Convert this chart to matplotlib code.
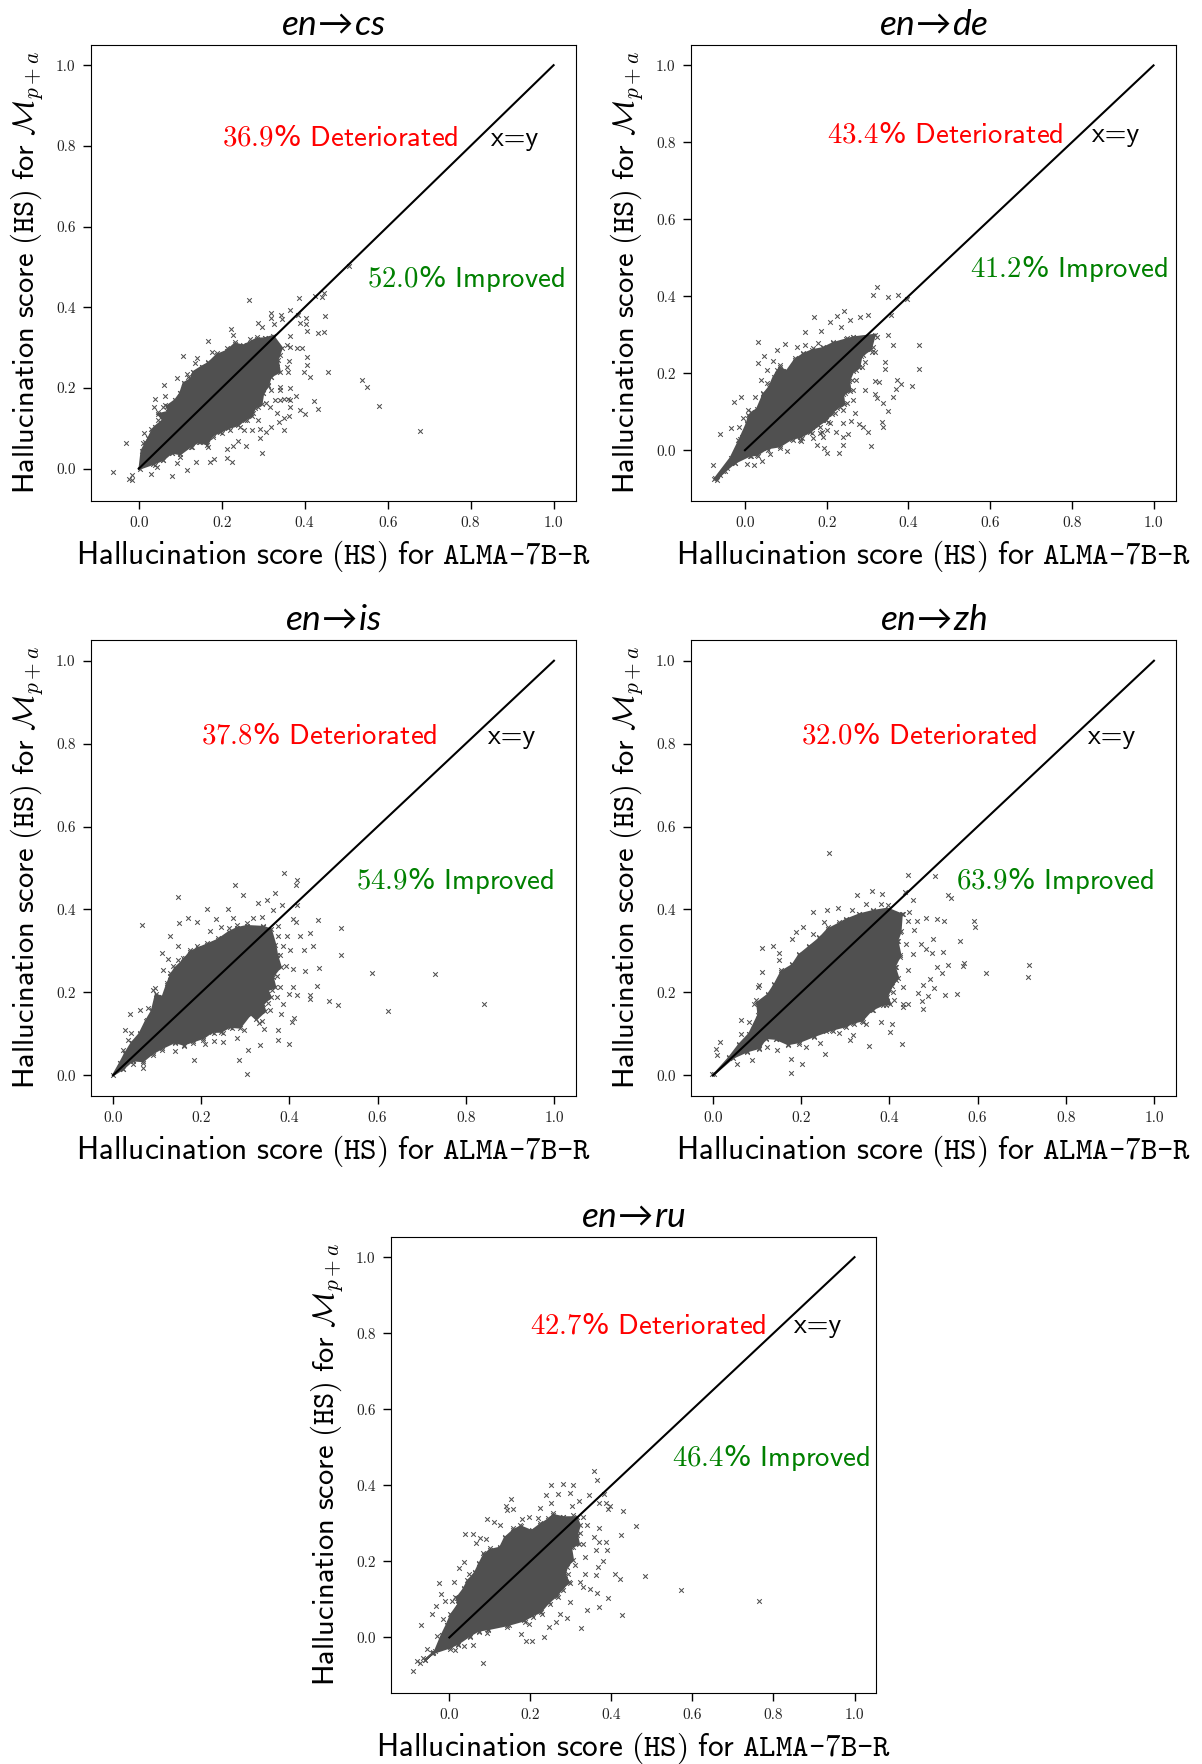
import numpy as np
import matplotlib
matplotlib.use("Agg")
import matplotlib.pyplot as plt

plt.rcParams['mathtext.fontset'] = 'cm'
plt.rcParams['mathtext.default'] = 'regular'

FIG_W, FIG_H = 1202, 1764

tick_values = [0.0, 0.2, 0.4, 0.6, 0.8, 1.0]
tick_labels = ['0.0', '0.2', '0.4', '0.6', '0.8', '1.0']

# single crosses, (ALMA-7B-R score, M_p+a score)
cs_points = [(-.063,-.009),(-.031,.064),(-.023,-.025),(-.017,-.028),(-.015,-.016),(.029,-.013),(.080,-.017),(.116,-.003),
    (.139,.017),(.173,.017),(.182,.025),(.214,.027),(.224,.017),(.298,.040),(.212,.050),(.227,.057),(.240,.069),(.259,.057),
    (.293,.077),(.272,.097),(.254,.096),(.293,.099),(.307,.092),(.320,.104),(.351,.095),(.339,.117),(.349,.125),(.363,.131),
    (.333,.137),(.389,.145),(.402,.136),(.432,.149),(.423,.169),(.379,.179),(.365,.154),(.341,.170),(.361,.173),(.365,.199),
    (.341,.203),(.537,.219),(.551,.202),(.578,.155),(.679,.093),(.456,.240),(.413,.228),(.398,.239),(.405,.258),(.406,.278),
    (.361,.240),(.363,.268),(.357,.253),(.433,.336),(.447,.338),(.450,.379),(.405,.342),(.403,.358),(.403,.373),(.389,.360),
    (.393,.298),(.381,.298),(.365,.302),(.365,.329),(.508,.502),(.447,.435),(.442,.426),(.426,.429),(.386,.423),(.267,.417),
    (.320,.387),(.342,.381),(.365,.393),(.320,.374),(.346,.372),(.385,.381),(.288,.362),(.298,.352),(.325,.358),(.222,.345),
    (.228,.332),(.168,.317),(.268,.321),(.176,.290),(.106,.280),(.141,.274),(.136,.261),(.093,.224),(.116,.235),(.061,.207),
    (.039,.173),(.063,.181),(.037,.154),(.059,.154),(.047,.121),(.013,.089),(.029,.098),(.015,.067),(.015,.042),(.043,.005),(.092,.013)]
de_points = [(-.078,-.039),(-.075,-.075),(-.061,.042),(-.034,.057),(-.026,.125),(-.010,.138),(.004,-.037),(.022,-.039),(.041,-.029),
    (.061,-.010),(.102,-.003),(.138,.025),(.166,.031),(.176,.014),(.194,.005),(.202,-.008),(.229,-.008),(.241,.014),(.241,.035),
    (.253,.042),(.223,.048),(.308,.010),(.300,.048),(.290,.061),(.280,.068),(.259,.077),(.337,.061),(.336,.074),(.349,.103),
    (.337,.122),(.363,.138),(.324,.135),(.319,.145),(.370,.158),(.381,.171),(.371,.183),(.410,.168),(.426,.210),(.425,.274),
    (.363,.274),(.349,.300),(.343,.228),(.344,.211),(.329,.178),(.319,.180),(.322,.423),(.314,.403),(.350,.397),(.374,.404),
    (.397,.392),(.357,.351),(.302,.351),(.282,.347),(.242,.361),(.226,.349),(.208,.332),(.170,.345),(.146,.307),(.187,.309),
    (.257,.339),(.234,.321),(.033,.282),(.047,.246),(.031,.226),(.078,.261),(.098,.276),(.127,.269),(.055,.209),(.068,.232),
    (.039,.183),(.024,.137),(.008,.105),(-.004,.083),(-.014,.061),(-.016,.027),(.208,.070),(.188,.048),(.163,.061),(.135,.027),
    (.314,.269),(.318,.256),(.294,.230),(.273,.183),(.294,.157),(.265,.131),(.269,.096),(.241,.105),(.204,.113),(.192,.079)]
is_points = [(.065,.362),(.147,.431),(.130,.337),(.150,.368),(.171,.379),(.191,.369),(.214,.400),(.260,.401),(.276,.459),(.295,.436),
    (.328,.415),(.350,.423),(.368,.439),(.387,.488),(.417,.472),(.414,.459),(.418,.411),(.383,.411),(.362,.398),(.234,.377),
    (.219,.348),(.244,.357),(.273,.379),(.318,.379),(.338,.383),(.464,.375),(.517,.355),(.447,.343),(.425,.337),(.454,.311),
    (.432,.303),(.517,.291),(.467,.259),(.435,.251),(.587,.247),(.731,.244),(.841,.173),(.623,.156),(.510,.169),(.489,.180),
    (.447,.184),(.462,.215),(.447,.194),(.409,.256),(.408,.214),(.417,.194),(.398,.196),(.386,.173),(.382,.147),(.410,.138),
    (.407,.128),(.375,.110),(.373,.084),(.399,.076),(.334,.072),(.307,.062),(.286,.037),(.304,.002),(.184,.038),(.250,.080),
    (.280,.090),(.229,.083),(.209,.076),(.342,.112),(.141,.058),(.067,.017),(.046,.026),(.022,.060),(.035,.084),(.026,.110),
    (.040,.102),(.039,.147),(.061,.158),(.080,.162),(.091,.206),(.110,.296),(.125,.280),(.148,.311),(.158,.283),(.114,.255),
    (.401,.303),(.394,.335),(.416,.369),(.409,.377),(.375,.359)]
zh_points = [(.264,.537),(.442,.483),(.503,.481),(.533,.436),(.540,.428),(.361,.445),(.326,.436),(.383,.438),(.436,.442),(.453,.422),
    (.283,.404),(.258,.398),(.227,.394),(.315,.399),(.347,.412),(.203,.357),(.188,.346),(.180,.329),(.137,.312),(.112,.308),
    (.150,.295),(.150,.277),(.483,.380),(.507,.378),(.523,.372),(.592,.373),(.595,.357),(.463,.373),(.445,.394),(.455,.351),
    (.498,.329),(.560,.324),(.521,.297),(.497,.295),(.471,.316),(.483,.305),(.569,.272),(.567,.263),(.533,.267),(.508,.261),
    (.618,.247),(.717,.267),(.714,.236),(.520,.247),(.491,.233),(.476,.217),(.500,.210),(.553,.195),(.526,.193),(.487,.191),
    (.474,.180),(.476,.161),(.464,.199),(.442,.173),(.430,.165),(.408,.201),(.429,.076),(.406,.123),(.402,.104),(.382,.129),
    (.353,.071),(.317,.098),(.311,.084),(.286,.103),(.256,.108),(.243,.078),(.255,.052),(.211,.067),(.201,.027),(.177,.039),
    (.177,.006),(.146,.060),(.123,.068),(.089,.036),(.055,.026),(.010,.048),(.006,.064),(.015,.080),(-.002,.004),(.063,.133),
    (.082,.129),(.063,.099),(.093,.171),(.105,.217),(.112,.249),(.101,.213),(.347,.124)]
ru_points = [(-.089,-.088),(-.079,-.061),(-.071,.034),(-.056,-.031),(-.040,-.038),(-.042,.063),(-.033,.082),(-.021,.114),(-.026,.144),
    (-.011,.096),(.007,.096),(-.030,.004),(-.016,.048),(.012,.147),(.037,.199),(.025,.182),(.049,.168),(.039,.271),(.058,.272),
    (.076,.261),(.091,.260),(.066,.249),(.094,.311),(.111,.303),(.125,.296),(.151,.364),(.141,.347),(.156,.337),(.143,.335),
    (.179,.311),(.197,.316),(.218,.314),(.224,.341),(.252,.400),(.238,.375),(.267,.376),(.281,.404),(.305,.400),(.299,.379),
    (.252,.354),(.302,.346),(.319,.358),(.357,.439),(.365,.414),(.345,.375),(.382,.377),(.370,.354),(.386,.354),(.397,.346),
    (.391,.337),(.428,.332),(.461,.294),(.424,.269),(.370,.289),(.386,.252),(.369,.252),(.356,.265),(.389,.230),(.362,.230),
    (.378,.202),(.366,.186),(.409,.166),(.421,.153),(.484,.161),(.572,.125),(.765,.095),(.391,.105),(.364,.116),(.370,.081),
    (.426,.059),(.339,.072),(.325,.024),(.291,.050),(.273,.061),(.263,.041),(.246,.028),(.233,0),(.203,-.010),(.188,-.009),
    (.178,.009),(.197,.035),(.084,-.066),(.058,-.019),(.035,-.023),(.014,-.032),(.148,.032),(.094,.013),(.298,.094),(.331,.133),
    (.347,.127),(.335,.168),(.361,.164)]

# crosses on the rough edge of the solid area, read less exactly
cs_fringe = [(.011,.063),(.023,.075),(.039,.104),(.031,.092),(.059,.121),(.047,.141),(.071,.141),(.063,.158),(.088,.170),(.100,.187),
    (.092,.158),(.120,.228),(.132,.240),(.108,.212),(.152,.253),(.168,.265),(.188,.286),(.212,.298),(.232,.315),(.252,.307),
    (.204,.282),(.160,.240),(.284,.327),(.304,.323),(.316,.315),(.357,.307),(.341,.282),(.333,.261),(.320,.228),(.312,.207),
    (.341,.195),(.320,.195),(.300,.187),(.308,.162),(.288,.154),(.276,.137),(.260,.121),(.288,.121),(.244,.104),(.220,.096),
    (.200,.088),(.180,.079),(.168,.055),(.148,.067),(.128,.055),(.100,.030),(.080,.038),(.059,.021),(.039,.009),(.019,.013),
    (.349,.174),(.329,.170),(.365,.170),(.316,.154)]
de_fringe = [(-.020,.001),(-.008,.035),(.004,.070),(.016,.100),(.008,.092),(.037,.113),(.045,.148),(.065,.170),(.053,.174),(.078,.209),
    (.086,.222),(.102,.204),(.122,.239),(.143,.252),(.167,.265),(.192,.269),(.216,.282),(.249,.291),(.265,.295),(.180,.278),
    (.147,.274),(.200,.256),(.322,.295),(.310,.256),(.290,.248),(.286,.217),(.273,.209),(.261,.183),(.265,.157),(.245,.148),
    (.249,.122),(.233,.113),(.220,.096),(.204,.074),(.184,.061),(.163,.044),(.139,.031),(.118,.027),(.086,.005),(.057,.001),
    (.033,-.016),(.016,-.016),(-.024,-.034),(-.053,-.055),(-.045,-.047),(-.061,-.064),(.241,.070),(.200,.053),(.184,.044),(.192,.035)]
is_fringe = [(.016,.030),(.027,.054),(.042,.078),(.061,.102),(.076,.134),(.088,.158),(.095,.210),(.110,.190),(.122,.222),(.129,.247),
    (.137,.263),(.148,.279),(.163,.283),(.175,.303),(.190,.311),(.212,.319),(.239,.331),(.262,.355),(.281,.363),(.303,.367),
    (.258,.327),(.318,.355),(.341,.359),(.375,.335),(.386,.311),(.379,.291),(.392,.263),(.371,.239),(.379,.214),(.360,.206),
    (.371,.190),(.352,.174),(.356,.158),(.337,.130),(.330,.126),(.318,.150),(.296,.110),(.269,.114),(.250,.102),(.228,.102),
    (.205,.086),(.182,.078),(.160,.070),(.141,.078),(.110,.062),(.091,.050),(.069,.030),(.046,.034),(.023,.014)]
zh_fringe = [(.036,.044),(.059,.076),(.082,.100),(.105,.149),(.097,.181),(.124,.197),(.139,.221),(.154,.253),(.180,.269),(.195,.293),
    (.218,.313),(.241,.333),(.260,.357),(.286,.369),(.301,.378),(.332,.390),(.362,.398),(.381,.414),(.396,.410),(.226,.341),
    (.252,.369),(.430,.390),(.442,.373),(.427,.349),(.438,.317),(.419,.325),(.453,.293),(.423,.285),(.415,.261),(.442,.253),
    (.415,.229),(.430,.213),(.400,.205),(.411,.181),(.430,.173),(.392,.169),(.362,.157),(.339,.129),(.320,.124),(.302,.116),
    (.271,.108),(.230,.092),(.195,.076),(.169,.072),(.142,.088),(.120,.088),(.105,.064),(.078,.056),(.044,.044)]
ru_fringe = [(-.019,.006),(-.007,.032),(.002,.063),(.022,.089),(.014,.107),(.035,.129),(.043,.151),(.063,.173),(.072,.195),(.084,.221),
    (.100,.234),(.125,.239),(.137,.265),(.158,.287),(.174,.296),(.203,.282),(.224,.300),(.244,.313),(.257,.326),(.281,.318),
    (.306,.322),(.331,.318),(.339,.296),(.323,.274),(.331,.247),(.306,.239),(.335,.212),(.310,.190),(.294,.168),(.323,.146),
    (.298,.142),(.281,.125),(.269,.107),(.249,.089),(.228,.063),(.207,.054),(.187,.041),(.142,.028),(.096,.019),(.072,.015),
    (.051,.002),(.022,-.020),(.002,-.029),(-.044,-.042),(-.064,-.055),(-.072,-.068),(-.060,-.060)]

# outline of the area where the crosses merge into solid grey, traced by eye
cs_core = [(.002,0),(.007,.045),(.023,.075),(.031,.092),(.039,.104),(.059,.121),(.047,.135),(.071,.141),(.068,.155),(.088,.170),
    (.100,.187),(.108,.212),(.125,.222),(.132,.240),(.152,.253),(.168,.262),(.188,.282),(.212,.292),(.232,.310),(.252,.305),
    (.284,.322),(.304,.323),(.324,.329),(.345,.300),(.335,.270),(.340,.240),(.318,.228),(.312,.205),(.300,.187),(.296,.160),
    (.280,.150),(.272,.130),(.255,.121),(.240,.108),(.215,.100),(.195,.090),(.178,.083),(.165,.060),(.145,.067),(.125,.055),
    (.100,.036),(.080,.040),(.059,.022),(.035,.012)]
de_core = [(-.073,-.073),(-.035,-.02),(-.012,.03),(.004,.068),(.010,.090),(.030,.108),(.045,.145),(.060,.165),(.070,.190),(.085,.215),
    (.102,.205),(.122,.235),(.143,.250),(.165,.260),(.190,.265),(.215,.278),(.248,.288),(.265,.293),(.318,.300),(.308,.262),
    (.285,.245),(.280,.215),(.265,.205),(.255,.180),(.258,.155),(.240,.145),(.243,.120),(.225,.110),(.212,.095),(.198,.078),
    (.180,.065),(.160,.048),(.135,.034),(.115,.030),(.085,.010),(.055,.005),(.030,-.012),(.012,-.014),(-.025,-.033),(-.050,-.055),(-.069,-.077)]
is_core = [(0,0),(.016,.030),(.027,.052),(.042,.078),(.060,.100),(.074,.130),(.088,.155),(.097,.195),(.112,.188),(.122,.218),
    (.130,.240),(.140,.258),(.160,.278),(.175,.298),(.192,.306),(.212,.315),(.238,.327),(.262,.345),(.281,.355),(.303,.360),
    (.340,.358),(.358,.352),(.368,.315),(.372,.290),(.380,.262),(.362,.238),(.368,.212),(.350,.205),(.358,.188),(.340,.172),
    (.345,.155),(.325,.135),(.312,.148),(.288,.115),(.265,.117),(.245,.105),(.225,.105),(.205,.090),(.182,.082),(.160,.074),
    (.140,.080),(.112,.066),(.090,.053),(.068,.034),(.045,.036),(.022,.015)]
zh_core = [(.002,.002),(.036,.042),(.059,.074),(.082,.100),(.103,.146),(.100,.175),(.124,.194),(.139,.218),(.155,.250),(.180,.266),
    (.195,.290),(.218,.310),(.241,.330),(.260,.352),(.286,.366),(.301,.375),(.332,.388),(.362,.396),(.396,.402),(.428,.388),
    (.425,.345),(.418,.325),(.425,.290),(.412,.262),(.420,.235),(.405,.215),(.395,.190),(.402,.172),(.385,.170),(.360,.158),
    (.338,.132),(.318,.127),(.300,.118),(.270,.110),(.230,.095),(.195,.080),(.170,.075),(.142,.088),(.120,.090),(.105,.066),
    (.078,.058),(.045,.042)]
ru_core = [(-.060,-.060),(-.035,-.035),(-.019,.006),(-.007,.032),(.004,.060),(.022,.087),(.018,.103),(.035,.127),(.045,.148),(.063,.170),
    (.073,.192),(.085,.217),(.100,.230),(.125,.236),(.137,.262),(.158,.282),(.176,.292),(.203,.280),(.224,.297),(.244,.310),
    (.257,.322),(.281,.316),(.314,.316),(.322,.295),(.315,.270),(.320,.245),(.300,.238),(.305,.205),(.290,.185),(.285,.165),
    (.295,.145),(.278,.128),(.265,.110),(.245,.092),(.225,.067),(.205,.058),(.185,.045),(.142,.032),(.096,.022),(.072,.018),
    (.051,.005),(.022,-.016),(.002,-.026),(-.040,-.041)]

deteriorated = ['36.9', '43.4', '37.8', '32.0', '42.7']
improved = ['52.0', '41.2', '54.9', '63.9', '46.4']
pairs = ['cs', 'de', 'is', 'zh', 'ru']
points = [cs_points, de_points, is_points, zh_points, ru_points]
fringes = [cs_fringe, de_fringe, is_fringe, zh_fringe, ru_fringe]
cores = [cs_core, de_core, is_core, zh_core, ru_core]

# axes box in pixels: left, right, top, bottom
boxes = [(91, 576, 45, 501), (691, 1176, 45, 501), (91, 576, 640, 1096), (691, 1176, 640, 1096), (391, 876, 1237, 1693)]
xlims = [(-.115, 1.054), (-.132, 1.055), (-.05, 1.05), (-.05, 1.05), (-.144, 1.053)]
ylims = [(-.08, 1.05), (-.132, 1.053), (-.05, 1.05), (-.05, 1.05), (-.146, 1.053)]

XLABEL = (r'$\mathsf{Hallucination\ score}\ \mathtt{(HS)}\ \mathsf{for}\ '
          r'\mathtt{ALMA}$-$\mathtt{7B}$-$\mathtt{R}$')
YLABEL = (r'$\mathsf{Hallucination\ score}\ \mathtt{(HS)}\ \mathsf{for}\ '
          r'\mathcal{M}_{\mathit{p+a}}$')
GREY = '#505050'

fig = plt.figure(figsize=(FIG_W / 100, FIG_H / 100), dpi=100)

for i in range(5):
    left, right, top, bottom = boxes[i]
    ax = fig.add_axes([left / FIG_W, 1 - bottom / FIG_H, (right - left) / FIG_W, (bottom - top) / FIG_H])

    core = np.array(cores[i])
    pts = np.array(points[i] + fringes[i] + cores[i])
    ax.fill(core[:, 0], core[:, 1], color=GREY, lw=1.5, zorder=1)
    ax.scatter(pts[:, 0], pts[:, 1], marker='x', s=11, linewidths=0.75, color=GREY, zorder=1)
    ax.plot([0, 1], [0, 1], color='black', lw=1.5, zorder=2)

    ax.set_xlim(xlims[i])
    ax.set_ylim(ylims[i])
    ax.set_xticks(tick_values, labels=tick_labels)
    ax.set_yticks(tick_values, labels=tick_labels)
    ax.tick_params(length=6, width=1, pad=5, labelsize=11, labelcolor='#222222', labelfontfamily='cmr10')

    ax.text(0.2, 0.8, r'$\mathtt{%s}\%%$ $\mathsf{Deteriorated}$' % deteriorated[i], color='red', fontsize=20.7)
    ax.text(0.55, 0.45, r'$\mathtt{%s}\%%$ $\mathsf{Improved}$' % improved[i], color='green', fontsize=20.7)
    ax.text(0.85, 0.8, 'x=y', color='black', fontsize=20, family='cmss10')

    ax.set_xlabel(XLABEL, fontsize=22.5, labelpad=6, family='cmtt10')
    ax.set_ylabel(YLABEL, fontsize=22, labelpad=8)
    ax.set_title('en' + r'$\!\rightarrow\!$' + pairs[i], fontsize=25.5, family='Lato', style='italic', pad=7)

fig.savefig('out.png', dpi=100)
